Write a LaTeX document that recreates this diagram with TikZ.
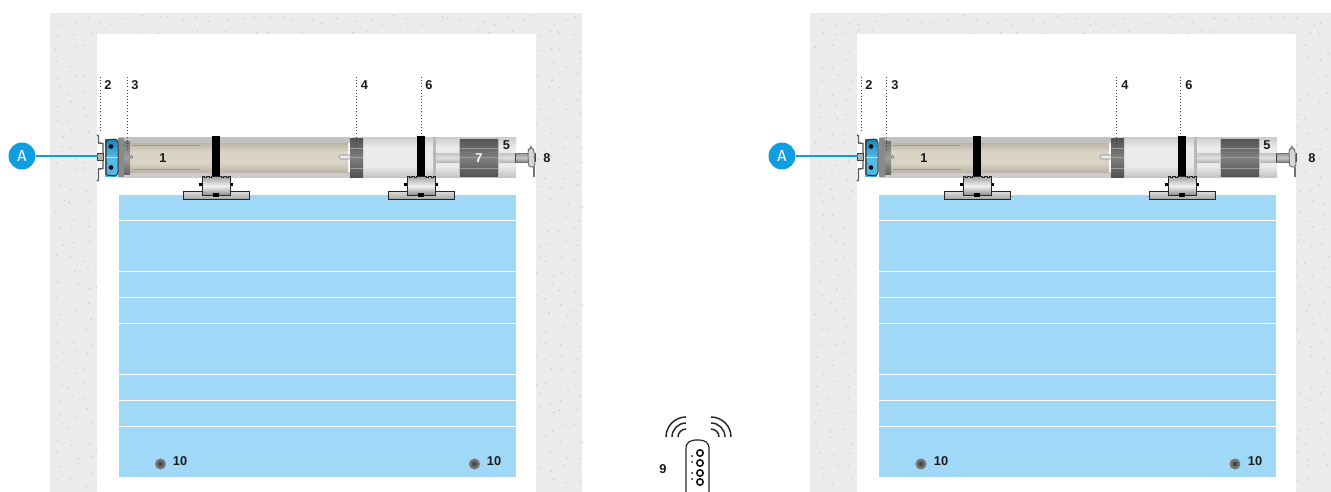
\documentclass[tikz,border=0pt]{standalone}
\usepackage{fontspec}
\setmainfont{Liberation Sans}
\newfontfamily\capfont{Fira Sans}
\definecolor{wallc}{HTML}{EBEBEC}
\definecolor{tickc}{HTML}{C6C6CA}
\definecolor{skyc}{HTML}{A0D8F7}
\definecolor{accent}{HTML}{0F9FE0}
\definecolor{tanlight}{HTML}{DAD4C7}
\definecolor{tandark}{HTML}{BDB4A5}
\tikzset{
  lbl/.style={font=\bfseries\fontsize{9.6}{9.6}\selectfont,inner sep=0pt,text=black!90},
  leader/.style={black!75,line width=0.75pt,dash pattern=on 0.75pt off 1.6pt},
  vgrad/.style n args={3}{top color=#1,bottom color=#3,middle color=#2,draw=none},
  outl/.style={draw=black!85,line width=0.6pt},
  slat/.style={white,line width=0.7pt},
  remotel/.style={black!85,line width=1.1pt},
  callout/.style={circle,fill=accent,minimum size=20.25pt,inner sep=0pt,text=white,font=\capfont\fontsize{12}{12}\selectfont}
}
\newcommand{\wallpart}[1]{%
  \begin{scope}[shift={(#1,0)}]
    \fill[wallc] (50,13) rectangle (582,492);
    \pgfmathsetseed{#1+11}
    \foreach \i in {0,...,37}{\foreach \j in {0,...,33}{%
      \pgfmathsetmacro{\px}{54+14*\i+10*rnd}
      \pgfmathsetmacro{\py}{15+14*\j+10*rnd}
      \draw[tickc,line width=0.55pt] (\px,\py) -- ++(1.4,1.2);
    }}
    \fill[white] (97,34) rectangle (536,492);
    \fill[skyc] (119,195) rectangle (516,477);
    \foreach \yy in {220.5,271.5,297.5,323,374.5,400.5,426.5}{\draw[slat] (119,\yy) -- (516,\yy);}
  \end{scope}%
}
\newcommand{\bracketpart}[1]{%
  \begin{scope}[shift={(#1,0)}]
    \fill[black] (-4,136) rectangle (4,176);
    \fill[black] (-17,182.5) rectangle (17,185.5);
    \shade[top color=black!12,bottom color=black!35,draw=none] (-33,191) rectangle (33,199);
    \draw[outl] (-33,191) rectangle (33,199);
    \shade[vgrad={black!35}{black!5}{black!45}] (-14,177) rectangle (14,195);
    \draw[outl] (-14,195) -- (-14,176) -- (-12,176) -- (-12,177.5) -- (-10,177.5) -- (-10,176) -- (-7,176) -- (-7,177.5) -- (-5,177.5) -- (-5,176) -- (5,176) -- (5,177.5) -- (7,177.5) -- (7,176) -- (10,176) -- (10,177.5) -- (12,177.5) -- (12,176) -- (14,176) -- (14,195) -- cycle;
    \fill[black] (-3,193) rectangle (3,197);
  \end{scope}%
}
\newcommand{\drivepart}[1]{%
 \begin{scope}[shift={(#1,0)}]
    % light end of the tube
    \shade[top color=black!20,bottom color=black!8,draw=none] (352,137) rectangle (516,147);
    \fill[black!8] (352,147) rectangle (516,166);
    \shade[top color=black!8,bottom color=black!24,draw=none] (352,166) rectangle (516,177.5);
    % tan end of the tube
    \fill[black!24] (119,137) rectangle (350,143);
    \fill[black!20] (119,172) rectangle (350,177.5);
    \shade[top color=tandark,bottom color=tanlight,draw=none] (125,143) rectangle (348,152);
    \fill[tanlight] (125,152) rectangle (348,163);
    \shade[top color=tanlight,bottom color=tandark,draw=none] (125,163) rectangle (348,172);
    \draw[black!40,line width=0.6pt] (132,145.5) -- (200,145.5) (132,169) -- (200,169);
    % shaft inside tube
    \fill[black!8] (339,155) rectangle (350,159);
    \draw[black!50,line width=0.4pt] (350,155) -- (341,155) arc[start angle=270,end angle=90,radius=2] -- (350,159);
    % gear band
    \shade[vgrad={black!68}{black!50}{black!68}] (350,138) rectangle (363,177);
    \draw[black!38,line width=0.4pt] (350,157) -- (363,157) (350,148) -- (363,148) (350,168) -- (363,168);
    % divider
    \fill[black!28] (433,137) rectangle (436,177.5);
    % shaft
    \shade[vgrad={black!24}{black!12}{black!28}] (436,153) rectangle (516,162);
    % drum
    \shade[vgrad={black!68}{black!50}{black!68}] (459,138) rectangle (498,177);
    \draw[black!40,line width=0.5pt] (459,148) -- (498,148) (459,157) -- (498,157) (459,168) -- (498,168);
    \draw[black!25,line width=0.5pt] (459,138) rectangle (498,177);
    % end pin and bracket 8
    \shade[vgrad={black!42}{black!22}{black!48}] (515,153) rectangle (528,162);
    \draw[black!75,line width=0.7pt] (515,153) -- (515,162);
    \draw[black!55,line width=0.5pt] (515,153) -- (528,153) (515,162) -- (528,162);
    \fill[black!55] (533,167) rectangle (535,177);
    \draw[black!55,fill=black!16,line width=0.7pt,rounded corners=2pt] (528.5,167) -- (528,150) -- (531,147) -- (534,150) -- (535,167) -- cycle;
    \fill[black!70] (535,153) rectangle (536,162);
    % collar
    \shade[vgrad={black!55}{black!38}{black!60}] (122,141) rectangle (130,174);
    \fill[black!46] (118,138) rectangle (124,177);
    \draw[black!55,line width=0.4pt] (131.5,157) circle (1.5);
    % straps and carriers
    \bracketpart{216}
    \bracketpart{421}
 \end{scope}%
}
\newcommand{\headpart}[1]{%
 \begin{scope}[shift={(#1,0)}]
    % wall bracket 2
    \draw[black!65,line width=1.1pt] (97,135) -- (98.5,136) -- (98.5,143) -- (103,143.5) -- (103,168.5) -- (98.5,169) -- (98.5,180) -- (97,181);
    \fill[black!30] (97.5,153) rectangle (103,160);
    \draw[black!75,line width=0.5pt] (97.5,153) rectangle (103,160);
    % blue motor head
    \shade[vgrad={accent!85!black}{accent!70!white}{accent!75!white}] (105,139) rectangle (117,176);
    \draw[black!80,line width=0.8pt,rounded corners=1pt] (106,140) -- (116,139) -- (118,142) -- (118,173) -- (116,176) -- (106,175) -- cycle;
    \fill[black] (111,146.5) circle (2.3);
    \fill[black] (111,167.5) circle (2.3);
    \fill[white!85!black] (106,156.5) rectangle (118,157.5);
 \end{scope}%
}
\begin{document}
\begin{tikzpicture}[x=0.75pt,y=-0.75pt]
\useasboundingbox (0,0) rectangle (1331,492);
\clip (0,0) rectangle (1331,492);
\fill[white] (0,0) rectangle (1331,492);
\wallpart{0}
\wallpart{760}
\drivepart{0}
\drivepart{761}
\headpart{0}
\headpart{760}

% --- left unit: callout, leaders, labels
\node[callout] (la) at (22,156) {A};
\coordinate (lah) at (98,156);
\draw[accent,line width=1.1pt] (la) -- (lah);
\node[lbl] (l2) at (108,85) {2};
\node[lbl] (l3) at (135,85) {3};
\node[lbl] (l4) at (364.5,85) {4};
\node[lbl] (l6) at (429,85) {6};
\coordinate (l2a) at (100,77); \coordinate (l2b) at (100,133);
\coordinate (l3a) at (127,77); \coordinate (l3b) at (127,150);
\coordinate (l4a) at (356.5,77); \coordinate (l4b) at (356.5,150);
\coordinate (l6a) at (421,77); \coordinate (l6b) at (421,136);
\draw[leader] (l2a) -- (l2b);
\draw[leader] (l3a) -- (l3b);
\draw[leader] (l4a) -- (l4b);
\draw[leader] (l6a) -- (l6b);
\node[lbl] (l1) at (163,158.5) {1};
\node[lbl] (l5) at (506.5,145) {5};
\node[lbl,text=white] (l7) at (479,158) {7};
\node[lbl] (l8) at (547,158) {8};
\fill[black!55] (160.5,464) circle (5.5);
\fill[black!72] (160.5,464) circle (2.5);
\node[lbl] (l10a) at (180,461) {10};
\fill[black!55] (474.5,464) circle (5.5);
\fill[black!72] (474.5,464) circle (2.5);
\node[lbl] (l10b) at (494,461) {10};

% --- right unit
\node[callout] (ra) at (782,156) {A};
\coordinate (rah) at (858,156);
\draw[accent,line width=1.1pt] (ra) -- (rah);
\node[lbl] (r2) at (869,85) {2};
\node[lbl] (r3) at (895,85) {3};
\node[lbl] (r4) at (1125,85) {4};
\node[lbl] (r6) at (1189,85) {6};
\coordinate (r2a) at (861,77); \coordinate (r2b) at (861,133);
\coordinate (r3a) at (886.5,77); \coordinate (r3b) at (886.5,150);
\coordinate (r4a) at (1116,77); \coordinate (r4b) at (1116,150);
\coordinate (r6a) at (1180.5,77); \coordinate (r6b) at (1180.5,136);
\draw[leader] (r2a) -- (r2b);
\draw[leader] (r3a) -- (r3b);
\draw[leader] (r4a) -- (r4b);
\draw[leader] (r6a) -- (r6b);
\node[lbl] (r1) at (924,158.5) {1};
\node[lbl] (r5) at (1267,145) {5};
\node[lbl] (r8) at (1312,158.5) {8};
\fill[black!55] (921,464) circle (5.5);
\fill[black!72] (921,464) circle (2.5);
\node[lbl] (r10a) at (941,461) {10};
\fill[black!55] (1235,464) circle (5.5);
\fill[black!72] (1235,464) circle (2.5);
\node[lbl] (r10b) at (1255,461) {10};

% --- remote
\node[lbl] (n9) at (663,469) {9};
\draw[black!85,line width=0.9pt,fill=white] (686,492) -- (686,449) .. controls (686,442) and (690,440) .. (697.5,440) .. controls (705,440) and (709,442) .. (709,449) -- (709,492);
\foreach \yy in {453,463,473,482}{\draw[black!90,line width=1.2pt] (700,\yy) circle (3.2);}
\foreach \yy in {456,462,473,479}{\fill[black!90] (692,\yy) circle (1);}
\foreach \rr in {8,14,20}{
  \draw[remotel] (686-\rr,437) arc[start angle=180,end angle=270,radius=\rr];
  \draw[remotel] (711+\rr,437) arc[start angle=0,end angle=-90,radius=\rr];
}
\end{tikzpicture}
\end{document}
